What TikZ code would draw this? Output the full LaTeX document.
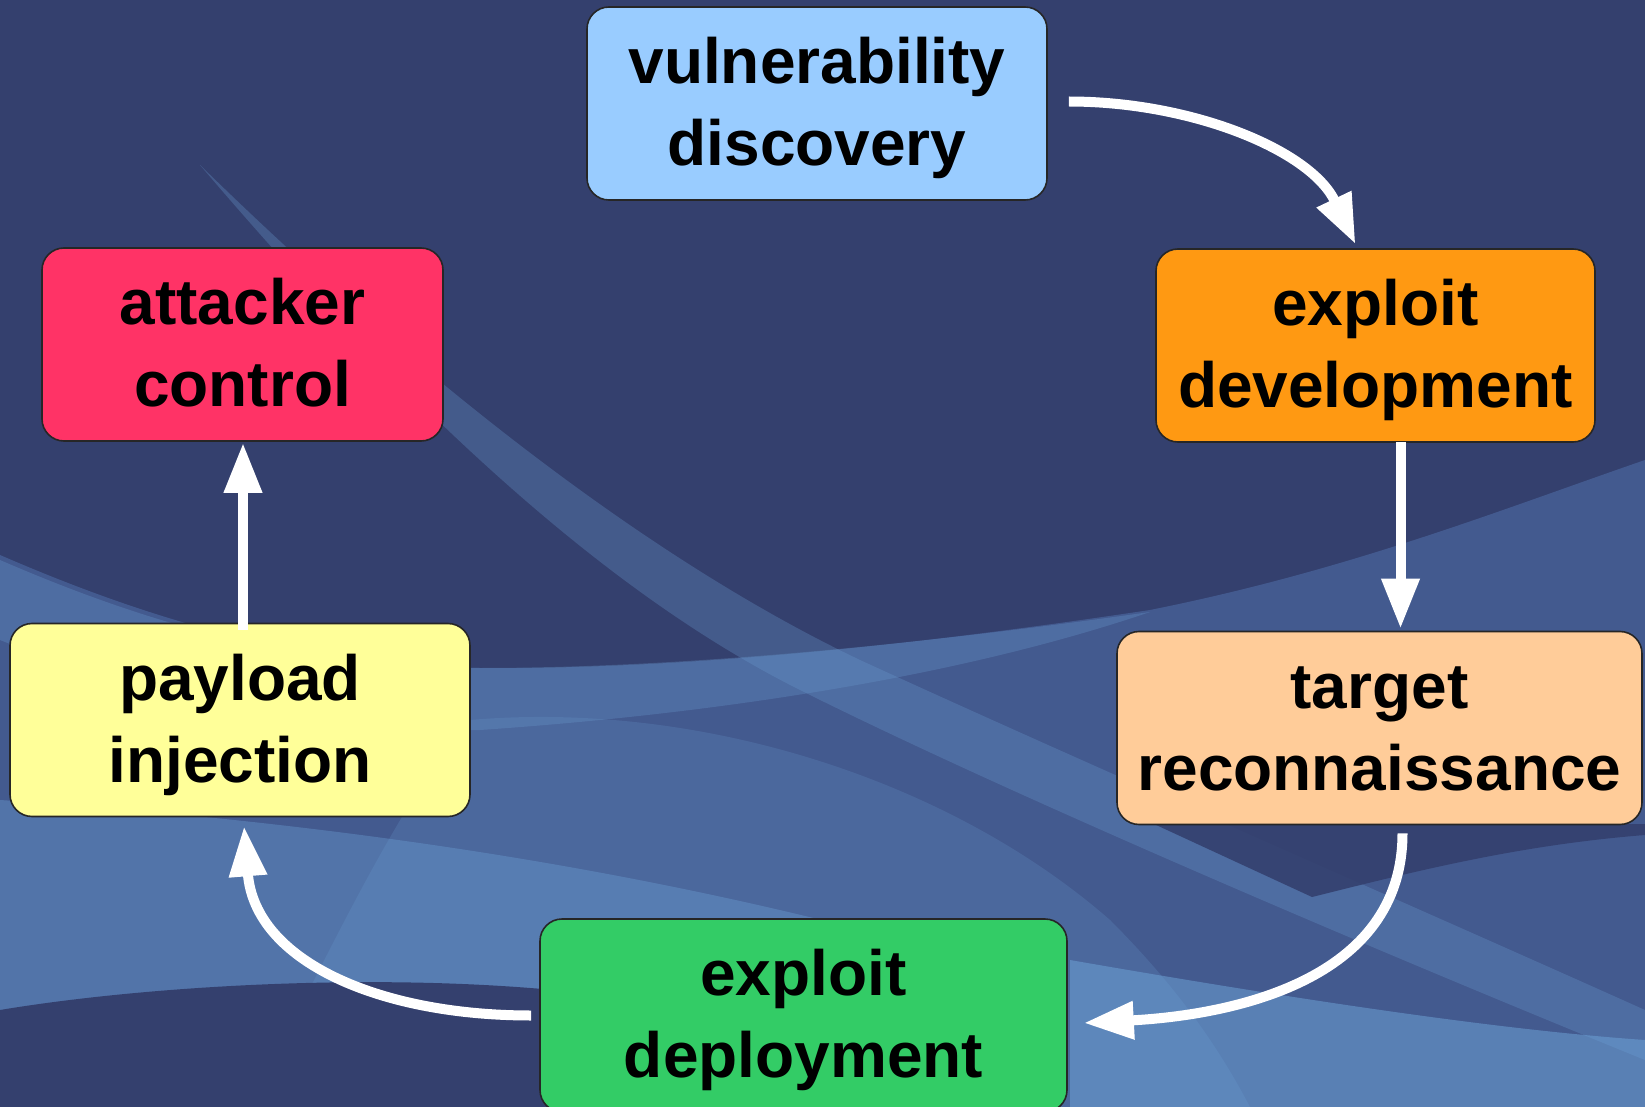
\documentclass[tikz,border=0pt]{standalone}
\usepackage{fontspec}
\setmainfont{Liberation Sans}
\usetikzlibrary{arrows.meta,calc}

\definecolor{bgnavy}{HTML}{34406E}
\definecolor{wavemid}{HTML}{4E6CA6}
\definecolor{wavelight}{HTML}{6A9BCF}
\definecolor{wavebright}{HTML}{6FA6DA}
\definecolor{vulnblue}{HTML}{99CCFF}
\definecolor{devorange}{HTML}{FF9912}
\definecolor{reconpeach}{HTML}{FFCC99}
\definecolor{deploygreen}{HTML}{33CC66}
\definecolor{payyellow}{HTML}{FFFF99}
\definecolor{ctrlred}{HTML}{FF3366}

\tikzset{every picture/.style={line width=0.75pt}}
\tikzset{
  stage/.style={draw=black!85, line width=0.8pt, rounded corners=11pt,
    minimum width=#1, minimum height=96.5pt, inner sep=3pt, align=center,
    font=\fontsize{32}{41}\selectfont\bfseries, text height=66.6pt, text depth=4.5pt},
  flow/.style={draw=white, line width=5pt, -{Triangle[length=25pt,width=18pt]}},
}

\begin{document}
\begin{tikzpicture}[x=0.5pt,y=0.5pt,yscale=-1,xscale=1]

\useasboundingbox (0,0) rectangle (1645,1107);
\clip (0,0) rectangle (1645,1107);

% background waves
\fill [bgnavy] (0,0) rectangle (1645,1107);
\fill [wavemid, opacity=0.6] (0,555) .. controls (150,620) and (300,665) .. (480,668) .. controls (700,670) and (950,640) .. (1150,610) .. controls (1350,570) and (1500,510) .. (1645,460) -- (1645,1107) -- (0,1107) -- cycle;
\fill [wavelight, opacity=0.3] (0,560) .. controls (150,625) and (300,668) .. (480,668) .. controls (700,668) and (950,640) .. (1150,612) .. controls (950,680) and (700,715) .. (480,730) .. controls (300,735) and (150,700) .. (0,640) -- cycle;
\fill [wavelight, opacity=0.3] (200,165) .. controls (420,380) and (650,560) .. (860,660) .. controls (1100,770) and (1400,900) .. (1645,1010) -- (1645,1060) .. controls (1350,940) and (1000,790) .. (800,690) .. controls (600,590) and (400,400) .. (200,165) -- cycle;
\fill [wavelight, opacity=0.22] (470,720) .. controls (700,700) and (950,780) .. (1110,920) .. controls (1180,990) and (1220,1050) .. (1250,1107) -- (250,1107) .. controls (330,950) and (400,800) .. (470,720) -- cycle;
\fill [wavebright, opacity=0.35] (0,800) .. controls (300,820) and (600,860) .. (900,940) -- (900,1107) -- (0,1107) -- cycle;
\fill [bgnavy] (0,1010) .. controls (150,985) and (400,970) .. (600,995) -- (600,1107) -- (0,1107) -- cycle;
\fill [bgnavy, opacity=0.9] (1154,824) -- (1312,897) .. controls (1420,870) and (1520,845) .. (1645,835) -- (1645,824) -- cycle;
\fill [wavebright, opacity=0.5] (1070,960) .. controls (1300,1000) and (1500,1030) .. (1645,1040) -- (1645,1107) -- (1070,1107) -- cycle;

% stages
\node [stage=230pt, fill=vulnblue] (vuln) at (817,103.5) {vulnerability\\discovery};
\node [stage=219.5pt, fill=devorange] (devel) at (1375.5,345.5) {exploit\\development};
\node [stage=262.5pt, fill=reconpeach] (recon) at (1379.5,728) {target\\reconnaissance};
\node [stage=263.5pt, fill=deploygreen] (deploy) at (803.5,1015.5) {exploit\\deployment};
\node [stage=230pt, fill=payyellow] (payload) at (240,720) {payload\\injection};
\node [stage=200.5pt, fill=ctrlred] (control) at (242.5,344.5) {attacker\\control};

% cycle
\draw [flow] ($(vuln.east)+(21,-2)$) .. controls +(123,0) and +(-45,-94) .. ($(devel.north)+(-20,-4)$);
\draw [flow] ($(devel.south)+(25,-1)$) -- ($(recon.north)+(21,-2)$);
\draw [flow] ($(recon.south)+(23,8)$) .. controls +(0,148) and +(147,-8) .. ($(deploy.east)+(16,7.5)$);
\draw [flow] ($(deploy.west)+(-8,0)$) .. controls +(-152,0) and +(11,135) .. ($(payload.south)+(4,9)$);
\draw [flow] ($(payload.north)+(3,7)$) -- ($(control.south)+(0.5,1)$);

\end{tikzpicture}
\end{document}
